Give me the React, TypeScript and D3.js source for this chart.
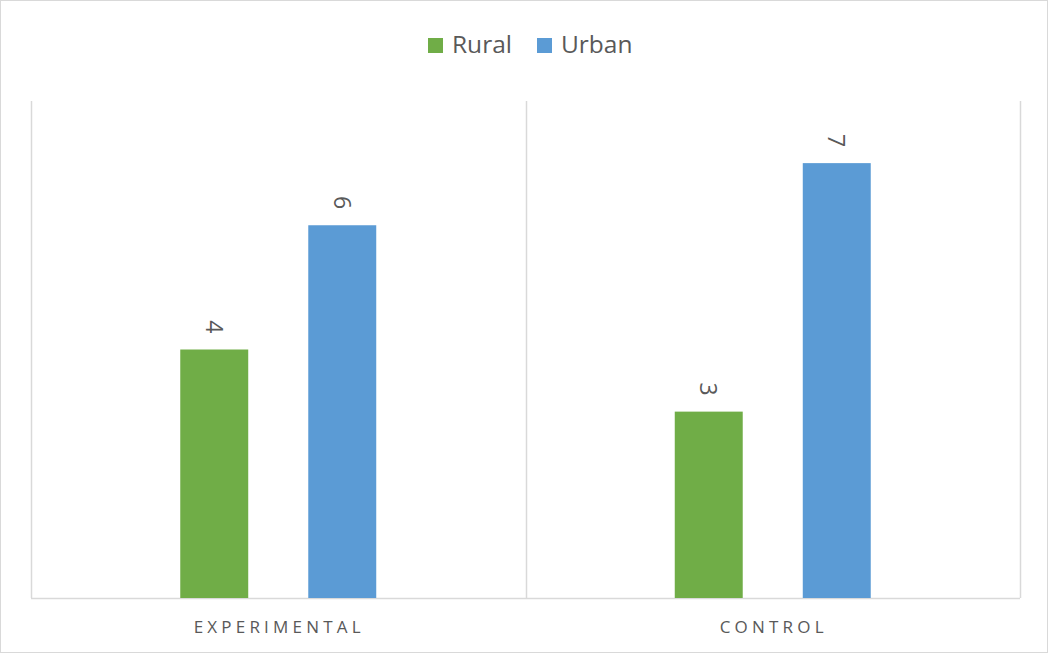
import { useEffect, useRef } from 'react';
import * as d3 from 'd3';

const categories = ['EXPERIMENTAL', 'CONTROL'];
const seriesNames = ['Rural', 'Urban'];
const ruralValues = [4, 3];
const urbanValues = [6, 7];
const seriesColors = ['#70ad47', '#5b9bd5'];

export default function App() {
  const ref = useRef<SVGSVGElement | null>(null);

  useEffect(() => {
    document.body.style.margin = '0';
    if (!ref.current) return;
    const svg = d3.select(ref.current);
    svg.selectAll('*').remove();

    const W = 1050;
    const H = 655;
    const margin = { top: 101, right: 30, bottom: 57, left: 31 };
    const font = '"Open Sans", "DejaVu Sans", sans-serif';

    // outer border
    svg.append('rect')
      .attr('x', 0.5).attr('y', 0.5)
      .attr('width', W - 3).attr('height', H - 3)
      .attr('fill', '#fff')
      .attr('stroke', '#d9d9d9');

    const x0 = d3.scaleBand<string>()
      .domain(categories)
      .range([margin.left, W - margin.right]);

    const x1 = d3.scaleBand<string>()
      .domain(seriesNames)
      .range([0, x0.bandwidth()])
      .paddingInner(0.469)
      .paddingOuter(1.166);

    const y = d3.scaleLinear()
      .domain([0, 8])
      .range([H - margin.bottom, margin.top]);

    const rows = categories.map((c, i) => ({
      category: c,
      values: [ruralValues[i], urbanValues[i]]
    }));

    // vertical separators
    const seps = [...categories.map(c => x0(c)!), x0(categories[categories.length - 1])! + x0.bandwidth()];
    svg.selectAll('.sep')
      .data(seps)
      .enter()
      .append('line')
      .attr('x1', d => Math.round(d) + 0.5)
      .attr('x2', d => Math.round(d) + 0.5)
      .attr('y1', y(8))
      .attr('y2', y(0))
      .attr('stroke', '#d9d9d9')
      .attr('stroke-width', 1.5);

    // baseline
    svg.append('line')
      .attr('x1', x0.range()[0])
      .attr('x2', x0.range()[1])
      .attr('y1', y(0) + 0.5)
      .attr('y2', y(0) + 0.5)
      .attr('stroke', '#d9d9d9')
      .attr('stroke-width', 1.5);

    const groups = svg.selectAll('.cat')
      .data(rows)
      .enter()
      .append('g')
      .attr('transform', d => `translate(${x0(d.category)},0)`);

    groups.selectAll('rect')
      .data(d => d.values.map((v, i) => ({ name: seriesNames[i], value: v, color: seriesColors[i] })))
      .enter()
      .append('rect')
      .attr('x', d => x1(d.name)!)
      .attr('y', d => y(d.value))
      .attr('width', x1.bandwidth())
      .attr('height', d => y(0) - y(d.value))
      .attr('fill', d => d.color);

    // value labels, rotated
    groups.selectAll('.lbl')
      .data(d => d.values.map((v, i) => ({ name: seriesNames[i], value: v })))
      .enter()
      .append('text')
      .attr('transform', d => `translate(${x1(d.name)! + x1.bandwidth() / 2},${y(d.value) - 16}) rotate(90)`)
      .attr('text-anchor', 'end')
      .attr('dy', '0.36em')
      .attr('fill', '#595959')
      .attr('font-family', font)
      .attr('font-size', 23)
      .text(d => d.value);

    // category labels
    svg.selectAll('.cl')
      .data(categories)
      .enter()
      .append('text')
      .attr('x', d => x0(d)! + x0.bandwidth() / 2 + 1)
      .attr('y', y(0) + 35)
      .attr('text-anchor', 'middle')
      .attr('fill', '#595959')
      .attr('font-family', font)
      .attr('font-size', 17)
      .attr('letter-spacing', 4.2)
      .text(d => d);

    // legend
    const legendX = [428, 537];
    const legend = svg.selectAll('.lg')
      .data(seriesNames)
      .enter()
      .append('g')
      .attr('transform', (d, i) => `translate(${legendX[i]},38)`);
    legend.append('rect')
      .attr('width', 15).attr('height', 15)
      .attr('fill', (d, i) => seriesColors[i]);
    legend.append('text')
      .attr('x', 24)
      .attr('y', 15)
      .attr('fill', '#595959')
      .attr('font-family', font)
      .attr('font-size', 24.5)
      .text(d => d);
  }, []);

  return <svg ref={ref} width={1050} height={655} style={{ display: 'block' }} />;
}
